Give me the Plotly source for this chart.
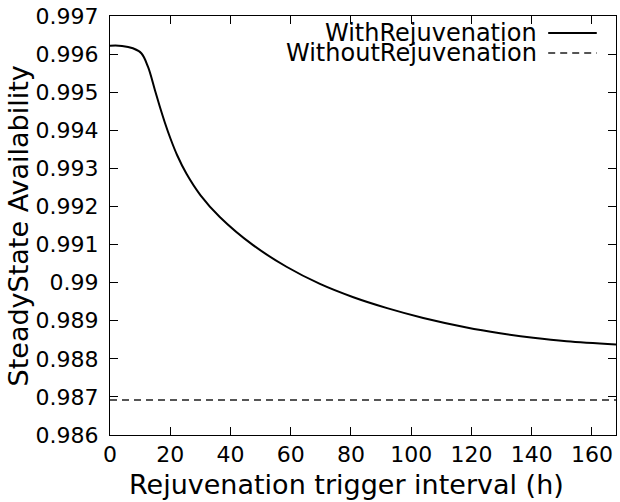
import plotly.graph_objects as go

# Rejuvenation trigger interval (h) and the resulting steady-state availability
interval_h = [0, 4, 7.6, 10.4, 12.6, 14.9, 16.5, 18.2, 20.1, 22.3, 25.4, 30, 36.45,
              47.5, 58.6, 69.7, 80.8, 92, 104, 118.4, 129.5, 140.5, 151.6, 168]
avail_with = [0.996220, 0.996215, 0.996152, 0.996021, 0.995669, 0.995058, 0.994630,
              0.994205, 0.993777, 0.993344, 0.992856, 0.992299, 0.991724,
              0.990984, 0.990417, 0.989966, 0.989617, 0.989331, 0.989073,
              0.988824, 0.988672, 0.988551, 0.988459, 0.988378]

# Availability without rejuvenation is constant over the interval
baseline_x = [0, 168]
avail_without = [0.98692, 0.98692]

x_ticks = [0, 20, 40, 60, 80, 100, 120, 140, 160]
y_ticks = [0.986, 0.987, 0.988, 0.989, 0.990, 0.991, 0.992, 0.993, 0.994, 0.995, 0.996, 0.997]
y_tick_text = ["0.986", "0.987", "0.988", "0.989", "0.99", "0.991", "0.992",
               "0.993", "0.994", "0.995", "0.996", "0.997"]

legend_names = ["WithRejuvenation", "WithoutRejuvenation"]
x_title = "Rejuvenation trigger interval (h)"
y_title = "SteadyState Availability"

FONT = "DejaVu Sans"
TICK_FS = 22
TITLE_FS = 27
KEY_FS = 24

fig = go.Figure()
fig.add_trace(go.Scatter(x=interval_h, y=avail_with, mode="lines",
                         line=dict(color="black", width=2, shape="spline", smoothing=1.0),
                         name=legend_names[0], showlegend=False))
fig.add_trace(go.Scatter(x=baseline_x, y=avail_without, mode="lines",
                         line=dict(color="#1e1e1e", width=1.6, dash="7px,5px"),
                         name=legend_names[1], showlegend=False))

axis_common = dict(showline=True, linecolor="black", linewidth=1, mirror="ticks",
                   ticks="inside", ticklen=8, tickwidth=1, tickcolor="black",
                   showgrid=False, zeroline=False,
                   tickfont=dict(family=FONT, size=TICK_FS, color="black"))

fig.update_xaxes(range=[0, 168], tickvals=x_ticks, **axis_common)
fig.update_yaxes(range=[0.986, 0.997], tickvals=y_ticks, ticktext=y_tick_text,
                 ticklabelstandoff=6, **axis_common)

# Axis titles placed as gnuplot does
fig.add_annotation(xref="paper", yref="paper", x=0.467, y=-0.119, text=x_title,
                   showarrow=False, xanchor="center", yanchor="middle",
                   font=dict(family=FONT, size=TITLE_FS, color="black"))
fig.add_annotation(xref="paper", yref="paper", x=-0.18, y=0.5, text=y_title,
                   showarrow=False, xanchor="center", yanchor="middle", textangle=-90,
                   font=dict(family=FONT, size=TITLE_FS, color="black"))

# Gnuplot-style key: right-aligned text followed by the line sample
key_rows = [(0.9594, "solid", "black", 2), (0.9117, "7px,5px", "#1e1e1e", 1.6)]
for name, (yy, dash, col, w) in zip(legend_names, key_rows):
    fig.add_annotation(xref="paper", yref="paper", x=0.848, y=yy, text=name,
                       showarrow=False, xanchor="right", yanchor="middle",
                       font=dict(family=FONT, size=KEY_FS, color="black"))
    fig.add_shape(type="line", xref="paper", yref="paper", x0=0.866, x1=0.962,
                  y0=yy, y1=yy, line=dict(color=col, width=w, dash=dash))

fig.update_layout(width=620, height=502, margin=dict(l=110, r=4, t=16, b=67),
                  plot_bgcolor="white", paper_bgcolor="white",
                  font=dict(family=FONT, size=TICK_FS, color="black"))

fig.write_html("out.html")
